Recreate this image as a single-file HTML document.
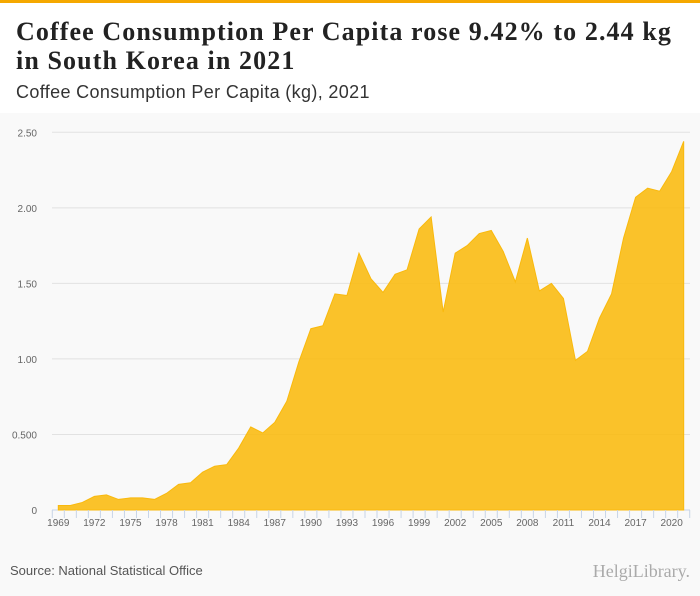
<!DOCTYPE html>
<html><head><meta charset="utf-8"><style>
body{margin:0;width:700px;height:596px;overflow:hidden;background:#f9f9f9;font-family:"Liberation Sans",sans-serif;position:relative}
#head{position:absolute;left:0;top:0;width:700px;height:113px;background:#fff;border-top:3px solid #f5a800;box-sizing:border-box}
#title{position:absolute;left:16px;top:14px;font-family:"Liberation Serif",serif;font-weight:bold;font-size:26px;letter-spacing:1.1px;line-height:29px;color:#222;margin:0;white-space:nowrap}
#sub{position:absolute;left:16px;top:79px;font-size:18px;letter-spacing:0.35px;color:#333}
#src{position:absolute;left:10px;top:563px;font-size:13px;color:#555}
#logo{position:absolute;right:10px;top:561px;font-size:18px;color:#aaa;font-family:"Liberation Serif",serif}
svg{position:absolute;left:0;top:0}
</style></head><body>
<div id="head">
<h1 id="title">Coffee Consumption Per Capita rose 9.42% to 2.44 kg<br>in South Korea in 2021</h1>
<div id="sub">Coffee Consumption Per Capita (kg), 2021</div>
</div>
<svg id="chart" width="700" height="596"></svg>
<div id="src">Source: National Statistical Office</div>
<div id="logo">HelgiLibrary.</div>
<script>
const years=[1969,1970,1971,1972,1973,1974,1975,1976,1977,1978,1979,1980,1981,1982,1983,1984,1985,1986,1987,1988,1989,1990,1991,1992,1993,1994,1995,1996,1997,1998,1999,2000,2001,2002,2003,2004,2005,2006,2007,2008,2009,2010,2011,2012,2013,2014,2015,2016,2017,2018,2019,2020,2021];
const values=[0.03,0.03,0.05,0.09,0.10,0.07,0.08,0.08,0.07,0.11,0.17,0.18,0.25,0.29,0.30,0.41,0.55,0.51,0.58,0.72,0.98,1.20,1.22,1.43,1.42,1.70,1.53,1.44,1.56,1.59,1.86,1.94,1.31,1.70,1.75,1.83,1.85,1.71,1.51,1.80,1.45,1.50,1.40,0.99,1.05,1.27,1.43,1.80,2.07,2.13,2.11,2.24,2.44];
const yTicks=[0,0.5,1,1.5,2,2.5];
const yTickLabels=["0","0.500","1.00","1.50","2.00","2.50"];
const NS="http://www.w3.org/2000/svg";
const svg=document.getElementById('chart');
const x0=58.3,x1=683.7,yb=510,yt=132.3,ymax=2.5;
const X=y=>x0+(y-years[0])*(x1-x0)/(years[years.length-1]-years[0]);
const Y=v=>yb-v*(yb-yt)/ymax;
function mk(t,a){const e=document.createElementNS(NS,t);for(const k in a)e.setAttribute(k,a[k]);svg.appendChild(e);return e;}
yTicks.forEach((t,i)=>{
 const l=mk('line',{x1:52,x2:690,y1:Y(t),y2:Y(t),stroke:i?'#e2e2e2':'#c8d4e6','stroke-width':1});
 
 
 const tx=mk('text',{x:37,y:Y(t)+4,'text-anchor':'end','font-size':10,fill:'#666','font-family':'Liberation Sans'});
 tx.textContent=yTickLabels[i];
 
 
});
let d='M'+X(years[0])+','+yb;
years.forEach((y,i)=>{d+=' L'+X(y)+','+Y(values[i]);});
d+=' L'+X(years[years.length-1])+','+yb+' Z';
const area=mk('path',{d:d,fill:'#f9b90d','fill-opacity':0.88,stroke:'#f9b90d','stroke-width':1});


for(let y=1968.5;y<=2022;y++){
 const xx=X(y);if(xx<51||xx>691)continue;
 const tk=mk('line',{x1:xx,x2:xx,y1:yb,y2:yb+8,stroke:'#c8d4e6'});
 
 
}
years.forEach(y=>{if((y-1969)%3)return;
 const tx=mk('text',{x:X(y),y:526,'text-anchor':'middle','font-size':10,fill:'#666','font-family':'Liberation Sans'});
 tx.textContent=y;
 
 
});
</script>
</body></html>
